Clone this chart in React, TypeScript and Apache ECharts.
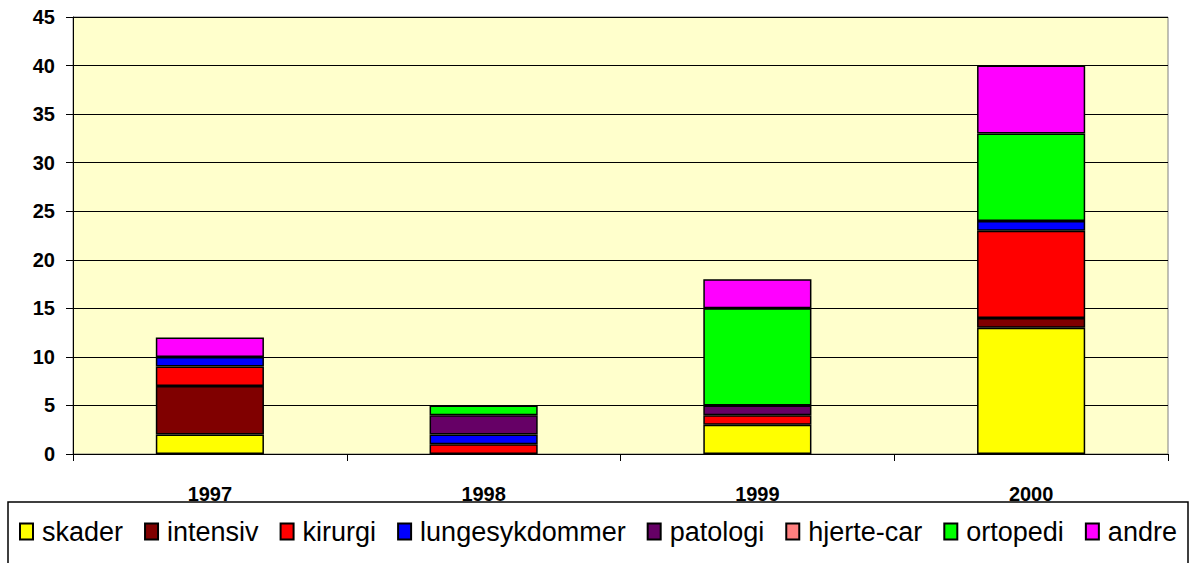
import React, { useEffect, useRef } from "react";
import * as echarts from "echarts";

const years = ["1997", "1998", "1999", "2000"];
const seriesNames = ["skader", "intensiv", "kirurgi", "lungesykdommer", "patologi", "hjerte-car", "ortopedi", "andre"];
const skader = [2, 0, 3, 13];
const intensiv = [5, 0, 0, 1];
const kirurgi = [2, 1, 1, 9];
const lungesykdommer = [1, 1, 0, 1];
const patologi = [0, 2, 1, 0];
const hjerteCar = [0, 0, 0, 0];
const ortopedi = [0, 1, 10, 9];
const andre = [2, 0, 3, 7];
const colors = ["#FFFF00", "#800000", "#FF0000", "#0000FF", "#660066", "#FF8080", "#00FF00", "#FF00FF"];
const yTicks = { min: 0, max: 45, interval: 5 };

const allValues = [skader, intensiv, kirurgi, lungesykdommer, patologi, hjerteCar, ortopedi, andre];

const FONT = "'Liberation Sans', Arial, sans-serif";

export default function App() {
  const ref = useRef<HTMLDivElement>(null);
  useEffect(() => {
    if (!ref.current) return;
    const chart = echarts.init(ref.current, null, { renderer: "svg" });
    chart.setOption({
      animation: false,
      backgroundColor: "#FFFFFF",
      grid: { left: 73, right: 22, top: 17, bottom: 109, show: true, backgroundColor: "#FFFFCC", borderColor: "#808080", borderWidth: 1 },
      xAxis: {
        type: "category",
        data: years,
        axisLine: { lineStyle: { color: "#000", width: 1 } },
        axisTick: { show: true, length: 7, inside: false, lineStyle: { color: "#000" } },
        axisLabel: { margin: 30, fontFamily: FONT, fontWeight: "bold", fontSize: 20, color: "#000" },
      },
      yAxis: {
        type: "value",
        min: yTicks.min,
        max: yTicks.max,
        interval: yTicks.interval,
        axisLine: { show: true, lineStyle: { color: "#000", width: 1 } },
        axisTick: { show: true, length: 7, lineStyle: { color: "#000" } },
        splitLine: { lineStyle: { color: "#000", width: 1 } },
        axisLabel: { margin: 18, fontFamily: FONT, fontWeight: "bold", fontSize: 20, color: "#000" },
      },
      legend: {
        left: 19,
        top: 518,
        padding: 0,
        itemWidth: 13,
        itemHeight: 16,
        itemGap: 21,
        icon: "rect",
        textStyle: { fontFamily: FONT, fontSize: 27, color: "#000", padding: [0, 0, 0, 4] },
        data: seriesNames,
      },
      graphic: [
        {
          type: "rect",
          shape: { x: 8, y: 502, width: 1180, height: 90 },
          style: { fill: "none", stroke: "#000", lineWidth: 1.5 },
          silent: true,
          z: 0,
        },
      ],
      series: seriesNames.map((name, i) => ({
        name,
        type: "bar",
        stack: "total",
        barCategoryGap: "60.5%",
        itemStyle: { color: colors[i], borderColor: "#000", borderWidth: 1.5 },
        data: allValues[i].map((v) => (v === 0 ? null : v)),
      })),
    });
    return () => chart.dispose();
  }, []);
  return <div ref={ref} style={{ position: "fixed", left: 0, top: 0, width: 1190, height: 563 }} />;
}
